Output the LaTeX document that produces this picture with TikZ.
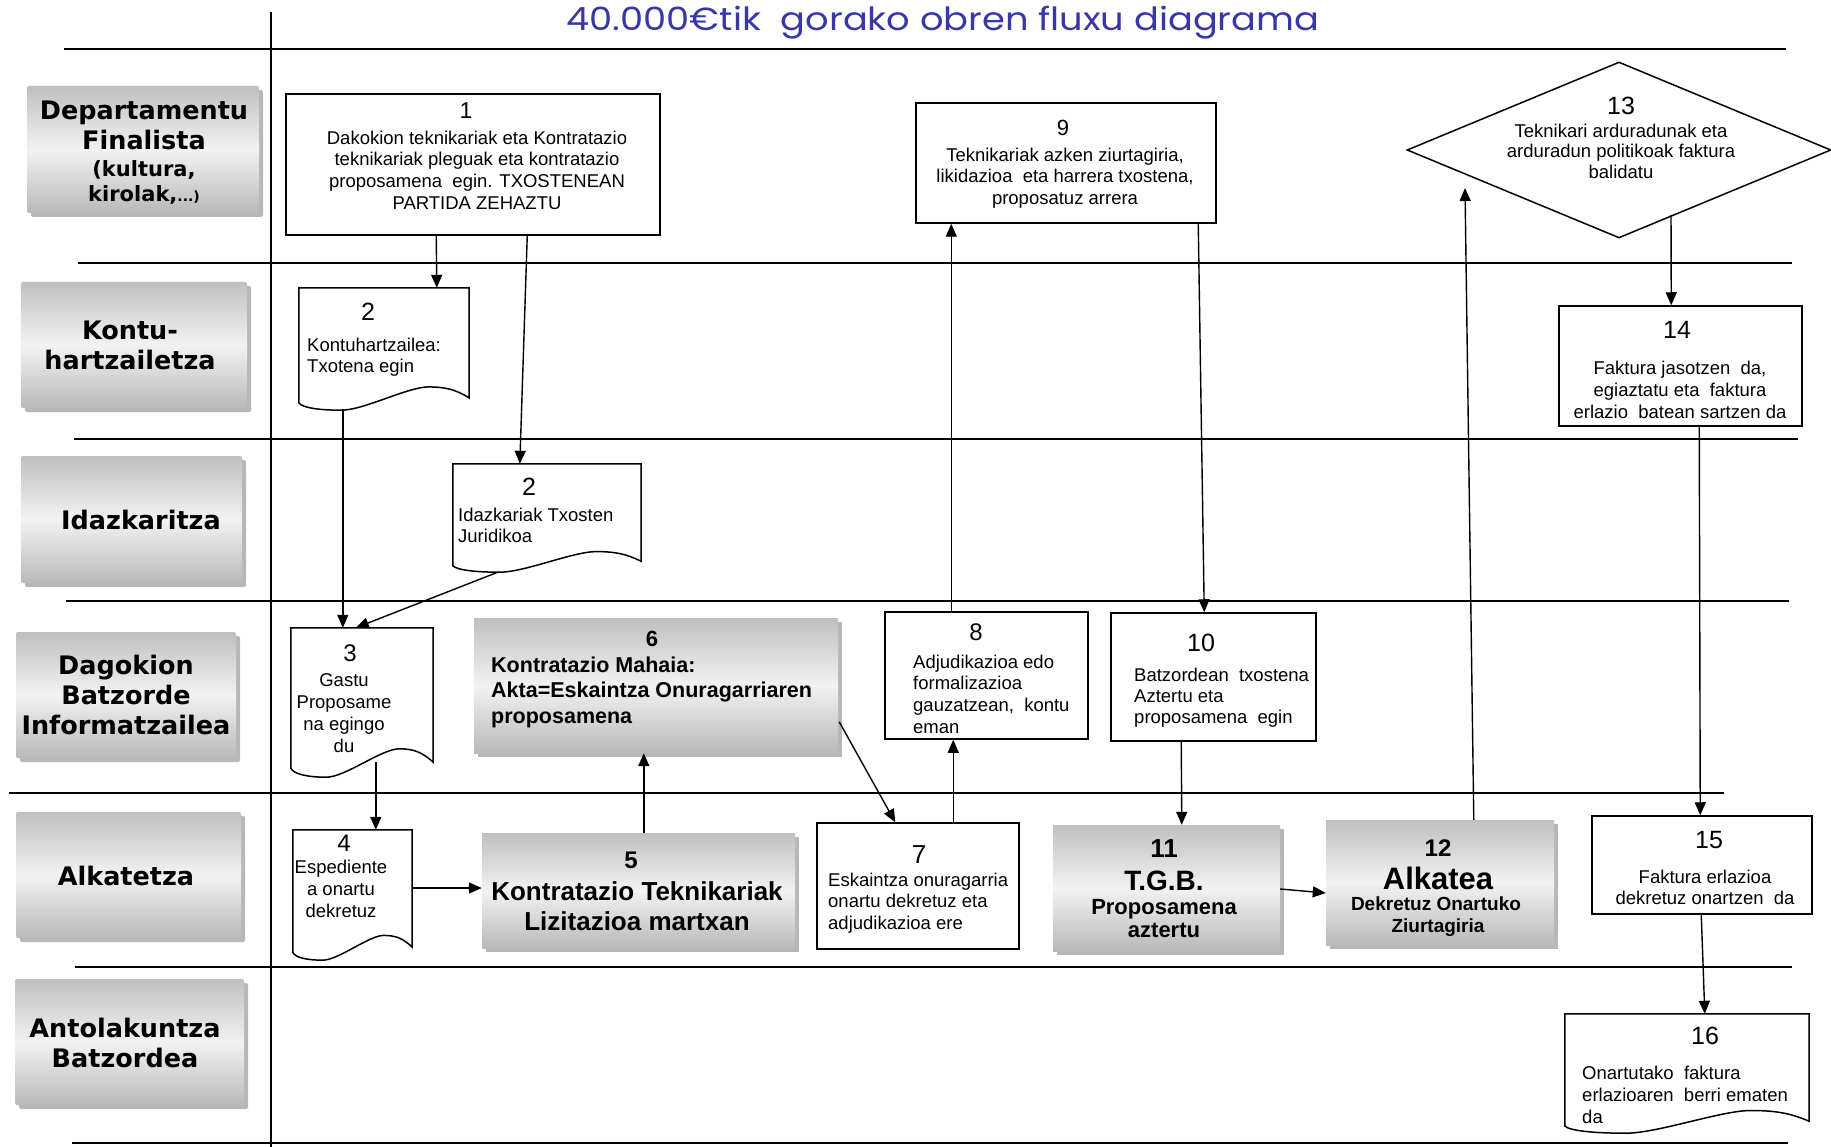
\documentclass[tikz,border=0pt]{standalone}
\usepackage{fontspec}
\setmainfont{Liberation Sans}
\newfontfamily\lanefont{DejaVu Sans}
\newfontfamily\titlefont[FakeStretch=1.15]{Poppins}
\usetikzlibrary{arrows.meta,shapes.geometric,shadows,calc}
\definecolor{titleblue}{RGB}{55,55,165}
\newcommand\docoutline[1]{%
  \draw[docline] let \p1=(#1.north west), \p2=(#1.south east), \n1={\x2-\x1}, \n2={\y1-\y2} in
   (\x1,\y1) -- (\x2,\y1) -- (\x2,\y2+0.1*\n2)
   .. controls (\x2-0.08*\n1,\y2+0.17*\n2) and (\x1+0.86*\n1,\y2+0.19*\n2) .. (\x1+0.76*\n1,\y2+0.19*\n2)
   .. controls (\x1+0.64*\n1,\y2+0.19*\n2) and (\x1+0.38*\n1,\y2) .. (\x1+0.25*\n1,\y2)
   .. controls (\x1+0.12*\n1,\y2) and (\x1+0.02*\n1,\y2+0.02*\n2) .. (\x1,\y2+0.06*\n2) -- cycle;}
\begin{document}
\begin{tikzpicture}[x=1pt,y=-1pt,
  lane/.style={line width=1.8pt},
  arr/.style={line width=1.4pt,-{Triangle[length=13pt,width=11pt]}},
  box/.style={draw,line width=1.5pt,fill=white,inner sep=0pt},
  docbox/.style={draw=none,inner sep=0pt},
  docline/.style={line width=1.5pt,fill=white},
  graybox/.style={inner sep=0pt,top color=gray!50,bottom color=gray!55,middle color=gray!10,
    drop shadow={shadow xshift=4pt,shadow yshift=-4pt,fill=gray!80,opacity=0.7}},
  lanebox/.style={graybox,rounded corners=2pt},
  lanetxt/.style={inner sep=0pt,align=center,font=\lanefont\bfseries\fontsize{25.5}{30}\selectfont},
  num/.style={inner sep=0pt,font=\fontsize{25}{25}\selectfont},
  bnum/.style={inner sep=0pt,anchor=base,font=\bfseries\fontsize{24}{24}\selectfont},
  txt/.style={inner sep=0pt,anchor=north,align=center,font=\fontsize{18.5}{21.7}\selectfont},
  ltxt/.style={inner sep=0pt,anchor=north west,align=left,font=\fontsize{18.5}{21.7}\selectfont},
]
\useasboundingbox (0,0) rectangle (1831,1147);
\fill[white] (0,0) rectangle (1831,1147);

% lanes
\draw[lane] (64,49) -- (1786,49);
\draw[lane] (78,263) -- (1792,263);
\draw[lane] (74,439) -- (1798,439);
\draw[lane] (66,601) -- (1789,601);
\draw[lane] (9,793) -- (1724,793);
\draw[lane] (75,967) -- (1792,967);
\draw[lane] (72,1143) -- (1788,1143);
\draw[lane] (271,12) -- (271,1147);

% title
\node[inner sep=0pt,font=\titlefont\fontsize{32}{32}\selectfont,text=titleblue] (title) at (943,23) {40.000€tik\ \ gorako obren fluxu diagrama};

% lane labels
\node[lanebox,minimum width=232pt,minimum height=127pt] (lab1) at (143,149.5) {};
\node[lanetxt] (lab1t) at (144,153) {Departamentu\\Finalista\\[-3pt]{\fontsize{21}{22}\selectfont(kultura,}\\[-5pt]{\fontsize{21}{22}\selectfont kirolak,{\fontsize{14}{14}\selectfont...)}}};
\node[lanebox,minimum width=226pt,minimum height=126pt] (lab2) at (134,345) {};
\node[lanetxt] (lab2t) at (130,345) {Kontu-\\hartzailetza};
\node[lanebox,minimum width=221pt,minimum height=127pt] (lab3) at (131.5,519.5) {};
\node[lanetxt] (lab3t) at (141,519.5) {Idazkaritza};
\node[lanebox,minimum width=220pt,minimum height=126pt] (lab4) at (126,695) {};
\node[lanetxt] (lab4t) at (126,695) {Dagokion\\Batzorde\\Informatzailea};
\node[lanebox,minimum width=225pt,minimum height=126pt] (lab5) at (128.5,875) {};
\node[lanetxt] (lab5t) at (126,876) {Alkatetza};
\node[lanebox,minimum width=229pt,minimum height=126pt] (lab6) at (129.5,1042) {};
\node[lanetxt] (lab6t) at (125,1043) {Antolakuntza\\Batzordea};

% boxes
\node[box,minimum width=374pt,minimum height=141pt] (n1) at (473,164.5) {};
\node[num,font=\fontsize{23}{23}\selectfont] (n1n) at (466,111) {1};
\node[txt] (n1t) at (477,130.5) {Dakokion teknikariak eta Kontratazio\\teknikariak pleguak eta kontratazio\\proposamena\ \ egin. TXOSTENEAN\\PARTIDA ZEHAZTU};

\node[docbox,minimum width=170pt,minimum height=122pt] (d2a) at (384,349) {};
\docoutline{d2a}
\node[num] (d2an) at (368,312) {2};
\node[ltxt] (d2at) at (307,337.5) {Kontuhartzailea:\\Txotena egin};

\node[docbox,minimum width=188pt,minimum height=108pt] (d2b) at (547,518) {};
\docoutline{d2b}
\node[num] (d2bn) at (529,487) {2};
\node[ltxt] (d2bt) at (458,507.5) {Idazkariak Txosten\\Juridikoa};

\node[docbox,minimum width=142pt,minimum height=149pt] (d3) at (362,702.5) {};
\docoutline{d3}
\node[num,font=\fontsize{24}{24}\selectfont] (d3n) at (350,653) {3};
\node[txt,font=\fontsize{18.5}{22}\selectfont] (d3t) at (344,673.5) {Gastu\\Proposame\\na egingo\\du};

\node[docbox,minimum width=119pt,minimum height=130pt] (d4) at (352.5,895) {};
\docoutline{d4}
\node[num,font=\fontsize{24}{24}\selectfont] (d4n) at (344,843) {4};
\node[txt,font=\fontsize{18.5}{22}\selectfont] (d4t) at (341,860) {Espediente\\a onartu\\dekretuz};

\node[graybox,minimum width=313pt,minimum height=115pt] (n5) at (638.5,890.5) {};
\node[bnum] (n5n) at (631,868) {5};
\node[txt,font=\bfseries\fontsize{26}{30}\selectfont] (n5t) at (637,881.5) {Kontratazio Teknikariak\\Lizitazioa martxan};

\node[graybox,minimum width=364pt,minimum height=135pt] (n6) at (656,685.5) {};
\node[bnum,font=\bfseries\fontsize{22}{22}\selectfont] (n6n) at (652,646) {6};
\node[ltxt,font=\bfseries\fontsize{21.5}{25.5}\selectfont] (n6t) at (491,656.5) {Kontratazio Mahaia:\\Akta=Eskaintza Onuragarriaren\\proposamena};

\node[box,minimum width=202pt,minimum height=126pt] (n7) at (918,886) {};
\node[num,font=\fontsize{26}{26}\selectfont] (n7n) at (919,855) {7};
\node[ltxt,font=\fontsize{18.5}{21.5}\selectfont] (n7t) at (828,872.5) {Eskaintza onuragarria\\onartu dekretuz eta\\adjudikazioa ere};

\node[box,minimum width=203pt,minimum height=127pt] (n8) at (986.5,675.5) {};
\node[num,font=\fontsize{24}{24}\selectfont] (n8n) at (976,632) {8};
\node[ltxt] (n8t) at (913,654.5) {Adjudikazioa edo\\formalizazioa\\gauzatzean,\ \ kontu\\eman};

\node[box,minimum width=300pt,minimum height=120pt] (n9) at (1066,163) {};
\node[num,font=\fontsize{22}{22}\selectfont] (n9n) at (1063,128) {9};
\node[txt,font=\fontsize{18.5}{21.5}\selectfont] (n9t) at (1065,147.5) {Teknikariak azken ziurtagiria,\\likidazioa\ \ eta harrera txostena,\\proposatuz arrera};

\node[box,minimum width=205pt,minimum height=128pt] (n10) at (1213.5,677) {};
\node[num] (n10n) at (1201,643) {10};
\node[ltxt,font=\fontsize{18.5}{21}\selectfont] (n10t) at (1134,667.5) {Batzordean\ \ txostena\\Aztertu eta\\proposamena\ \ egin};

\node[graybox,minimum width=227pt,minimum height=126pt] (n11) at (1166.5,888) {};
\node[bnum,font=\bfseries\fontsize{26}{26}\selectfont] (n11n) at (1164,857) {11};
\node[bnum,font=\bfseries\fontsize{28}{28}\selectfont] (n11a) at (1164,890) {T.G.B.};
\node[bnum,font=\bfseries\fontsize{22}{22}\selectfont] (n11b) at (1164,914) {Proposamena};
\node[bnum,font=\bfseries\fontsize{22}{22}\selectfont] (n11c) at (1164,937) {aztertu};

\node[graybox,minimum width=228pt,minimum height=125pt] (n12) at (1440,882.5) {};
\node[bnum] (n12n) at (1438,856) {12};
\node[bnum,font=\bfseries\fontsize{31}{31}\selectfont] (n12a) at (1438,889) {Alkatea};
\node[bnum,font=\bfseries\fontsize{19}{19}\selectfont] (n12b) at (1436,910) {Dekretuz Onartuko};
\node[bnum,font=\bfseries\fontsize{19}{19}\selectfont] (n12c) at (1438,932) {Ziurtagiria};

\node[draw,diamond,line width=1.5pt,fill=white,inner sep=0pt,minimum width=424pt,minimum height=176pt] (n13) at (1619,150) {};
\node[num] (n13n) at (1621,106) {13};
\node[txt,font=\fontsize{18.5}{20.5}\selectfont] (n13t) at (1621,123.5) {Teknikari arduradunak eta\\arduradun politikoak faktura\\balidatu};

\node[box,minimum width=243pt,minimum height=120pt] (n14) at (1680.5,366) {};
\node[num] (n14n) at (1677,330) {14};
\node[txt,font=\fontsize{18.5}{22}\selectfont] (n14t) at (1680,360.5) {Faktura jasotzen\ \ da,\\egiaztatu eta\ \ faktura\\erlazio\ \ batean sartzen da};

\node[box,minimum width=220pt,minimum height=98pt] (n15) at (1702,865) {};
\node[num] (n15n) at (1709,840) {15};
\node[txt,font=\fontsize{18.5}{21}\selectfont] (n15t) at (1705,869.5) {Faktura erlazioa\\dekretuz onartzen\ \ da};

\node[docbox,minimum width=244pt,minimum height=119pt] (d16) at (1687,1073.5) {};
\docoutline{d16}
\node[num] (d16n) at (1705,1036) {16};
\node[ltxt,font=\fontsize{18.5}{22}\selectfont] (d16t) at (1582,1065.5) {Onartutako\ \ faktura\\erlazioaren\ \ berri ematen\\da};

% connectors
\draw[arr] ($(n1.south west)+(151,0)$) -- ($(d2a.north west)+(138,0)$);
\draw[arr] ($(n1.south west)+(242,0)$) -- ($(d2b.north west)+(67,0)$);
\draw[arr] ($(d2a.south west)+(44,-1)$) -- ($(d3.north west)+(52,0)$);
\draw[arr] ($(d2b.south west)+(45,0)$) -- ($(d3.north west)+(65,0)$);
\draw[arr] ($(d3.south west)+(85,-15)$) -- ($(d4.north west)+(83,0)$);
\draw[arr] ($(d4.east)+(0,-7)$) -- ($(n5.west)+(0,-2.5)$);
\draw[arr] ($(n5.north west)+(162,0)$) -- ($(n6.south west)+(170,0)$);
\draw[arr] ($(n6.north east)+(1,104)$) -- ($(n7.north west)+(79,0)$);
\draw[arr] ($(n7.north west)+(137,0)$) -- ($(n8.south west)+(69,0)$);
\draw[arr] ($(n8.north west)+(67,0)$) -- ($(n9.south west)+(36,0)$);
\draw[arr] ($(n9.south west)+(283,0)$) -- ($(n10.north west)+(94,0)$);
\draw[arr] ($(n10.south west)+(71,0)$) -- ($(n11.north west)+(129,0)$);
\draw[arr] ($(n11.east)+(0,1)$) -- ($(n12.west)+(0,10.5)$);
\draw[arr] ($(n12.north west)+(148,0)$) -- ($(n13.center)+(-154,38)$);
\draw[arr] ($(n13.center)+(52,65)$) -- ($(n14.north west)+(113,0)$);
\draw[arr] ($(n14.south west)+(141,0)$) -- ($(n15.north west)+(109,0)$);
\draw[arr] ($(n15.south west)+(110,0)$) -- ($(d16.north west)+(140,0)$);
\end{tikzpicture}
\end{document}
